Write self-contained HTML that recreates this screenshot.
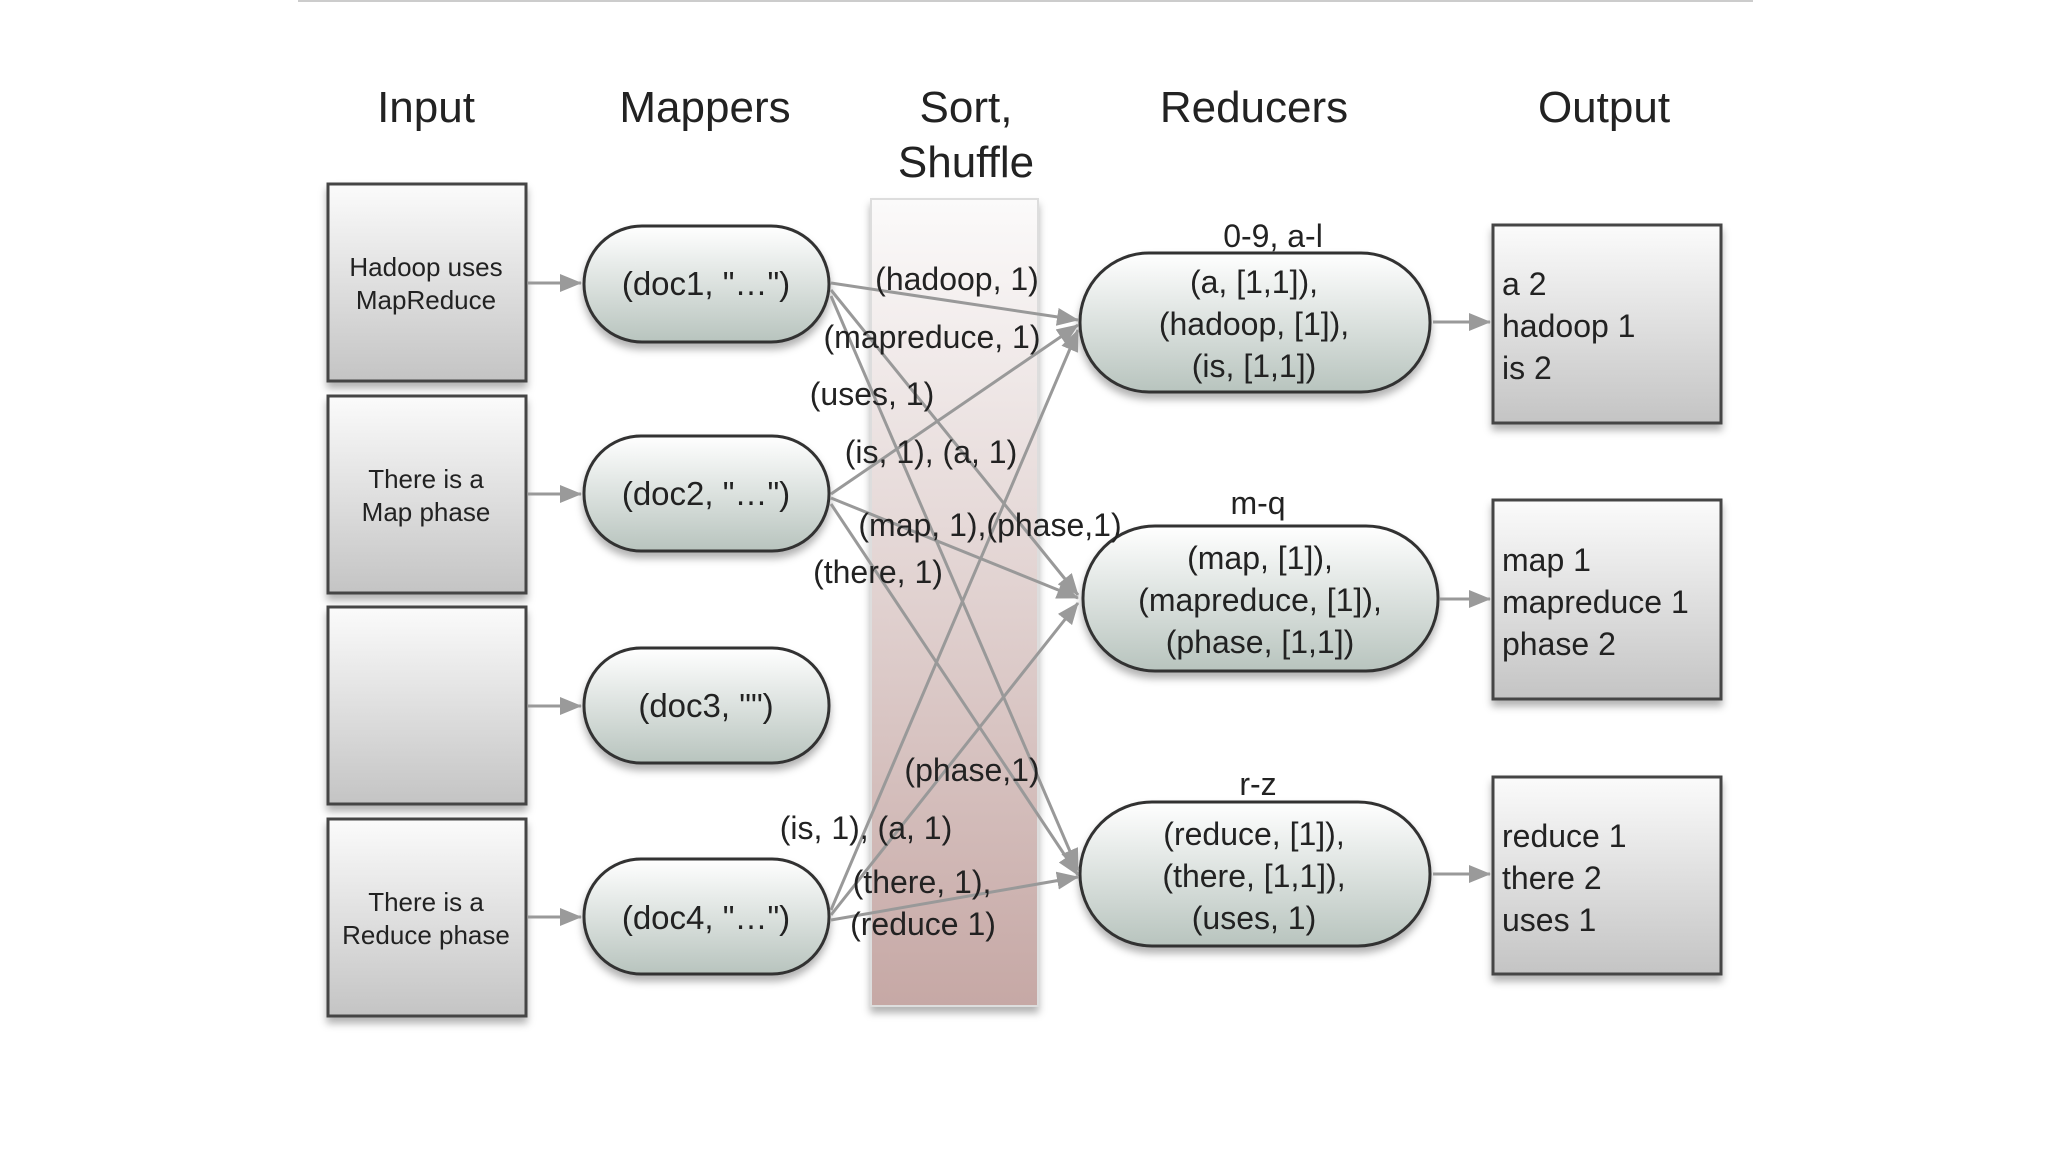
<!DOCTYPE html>
<html><head><meta charset="utf-8"><style>
html,body{margin:0;padding:0;background:#fff;}
svg{display:block;}
text{font-family:"Liberation Sans",sans-serif;fill:#222;}
</style></head><body>
<svg width="2048" height="1152" viewBox="0 0 2048 1152" xmlns="http://www.w3.org/2000/svg">
<defs>
<linearGradient id="g" x1="0" y1="0" x2="0" y2="1"><stop offset="0" stop-color="#fbfbfb"/><stop offset="1" stop-color="#c4c4c4"/></linearGradient>
<linearGradient id="gp" x1="0" y1="0" x2="0" y2="1"><stop offset="0" stop-color="#ffffff"/><stop offset="1" stop-color="#b8c4be"/></linearGradient>
<linearGradient id="gs" x1="0" y1="0" x2="0" y2="1"><stop offset="0" stop-color="#fbfafa"/><stop offset="1" stop-color="#c6a8a5"/></linearGradient>
<filter id="sh" x="-10%" y="-10%" width="130%" height="130%"><feDropShadow dx="0" dy="6" stdDeviation="4" flood-color="#000" flood-opacity="0.3"/></filter>
<marker id="ar" markerWidth="10" markerHeight="8" refX="9" refY="4" orient="auto" markerUnits="userSpaceOnUse" viewBox="0 0 10 8"><path d="M0,0 L10,4 L0,8 z" fill="#999"/></marker>
<marker id="ar2" markerWidth="22" markerHeight="18" refX="21" refY="9" orient="auto" markerUnits="userSpaceOnUse" viewBox="0 0 22 18"><path d="M0,0 L22,9 L0,18 z" fill="#9a9a9a"/></marker>
</defs>
<line x1="298" y1="1" x2="1753" y2="1" stroke="#ccc" stroke-width="2"/>
<g font-size="44" text-anchor="middle">
<text x="426" y="122">Input</text>
<text x="705" y="122">Mappers</text>
<text x="966" y="122">Sort,</text>
<text x="966" y="177">Shuffle</text>
<text x="1254" y="122">Reducers</text>
<text x="1604" y="122">Output</text>
</g>
<rect x="871" y="199" width="167" height="807" fill="url(#gs)" stroke="#ddd" stroke-width="2" filter="url(#sh)"/>
<g fill="url(#g)" stroke="#444" stroke-width="3" filter="url(#sh)">
<rect x="328" y="184" width="198" height="197"/>
<rect x="328" y="396" width="198" height="197"/>
<rect x="328" y="607" width="198" height="197"/>
<rect x="328" y="819" width="198" height="197"/>
<rect x="1493" y="225" width="228" height="198"/>
<rect x="1493" y="500" width="228" height="199"/>
<rect x="1493" y="777" width="228" height="197"/>
</g>
<g fill="url(#gp)" stroke="#333" stroke-width="3" filter="url(#sh)">
<rect x="584" y="226" width="245" height="116" rx="58"/>
<rect x="584" y="436" width="245" height="115" rx="57"/>
<rect x="584" y="648" width="245" height="115" rx="57"/>
<rect x="584" y="859" width="245" height="115" rx="57"/>
<rect x="1080" y="253" width="350" height="139" rx="69"/>
<rect x="1083" y="526" width="355" height="145" rx="72"/>
<rect x="1080" y="802" width="350" height="144" rx="72"/>
</g>
<g stroke="#999" stroke-width="3" marker-end="url(#ar2)">
<line x1="528" y1="283" x2="581" y2="283"/>
<line x1="528" y1="494" x2="581" y2="494"/>
<line x1="528" y1="706" x2="581" y2="706"/>
<line x1="528" y1="917" x2="581" y2="917"/>
<line x1="1433" y1="322" x2="1490" y2="322"/>
<line x1="1440" y1="599" x2="1490" y2="599"/>
<line x1="1433" y1="874" x2="1490" y2="874"/>
<line x1="831" y1="283" x2="1078" y2="320"/>
<line x1="831" y1="290" x2="1078" y2="595"/>
<line x1="831" y1="296" x2="1078" y2="870"/>
<line x1="831" y1="494" x2="1078" y2="325"/>
<line x1="831" y1="498" x2="1078" y2="598"/>
<line x1="831" y1="504" x2="1078" y2="875"/>
<line x1="831" y1="910" x2="1078" y2="330"/>
<line x1="831" y1="915" x2="1078" y2="603"/>
<line x1="831" y1="920" x2="1078" y2="877"/>
</g>
<g font-size="26" text-anchor="middle">
<text x="426" y="276">Hadoop uses</text><text x="426" y="309">MapReduce</text>
<text x="426" y="488">There is a</text><text x="426" y="521">Map phase</text>
<text x="426" y="911">There is a</text><text x="426" y="944">Reduce phase</text>
</g>
<g font-size="33" text-anchor="middle">
<text x="706" y="295">(doc1, "…")</text>
<text x="706" y="505">(doc2, "…")</text>
<text x="706" y="717">(doc3, "")</text>
<text x="706" y="929">(doc4, "…")</text>
</g>
<g font-size="32" text-anchor="middle">
<text x="1273" y="247">0-9, a-l</text>
<text x="1258" y="514">m-q</text>
<text x="1258" y="795">r-z</text>
<text x="1254" y="293">(a, [1,1]),</text>
<text x="1254" y="335">(hadoop, [1]),</text>
<text x="1254" y="377">(is, [1,1])</text>
<text x="1260" y="569">(map, [1]),</text>
<text x="1260" y="611">(mapreduce, [1]),</text>
<text x="1260" y="653">(phase, [1,1])</text>
<text x="1254" y="845">(reduce, [1]),</text>
<text x="1254" y="887">(there, [1,1]),</text>
<text x="1254" y="929">(uses, 1)</text>
</g>
<g font-size="32">
<text x="1502" y="295">a 2</text><text x="1502" y="337">hadoop 1</text><text x="1502" y="379">is 2</text>
<text x="1502" y="571">map 1</text><text x="1502" y="613">mapreduce 1</text><text x="1502" y="655">phase 2</text>
<text x="1502" y="847">reduce 1</text><text x="1502" y="889">there 2</text><text x="1502" y="931">uses 1</text>
</g>
<g font-size="32" text-anchor="middle">
<text x="957" y="290">(hadoop, 1)</text>
<text x="932" y="348">(mapreduce, 1)</text>
<text x="872" y="405">(uses, 1)</text>
<text x="931" y="463">(is, 1), (a, 1)</text>
<text x="990" y="536">(map, 1),(phase,1)</text>
<text x="878" y="583">(there, 1)</text>
<text x="972" y="781">(phase,1)</text>
<text x="866" y="839">(is, 1), (a, 1)</text>
<text x="922" y="893">(there, 1),</text>
<text x="923" y="935">(reduce 1)</text>
</g>
</svg>
</body></html>
